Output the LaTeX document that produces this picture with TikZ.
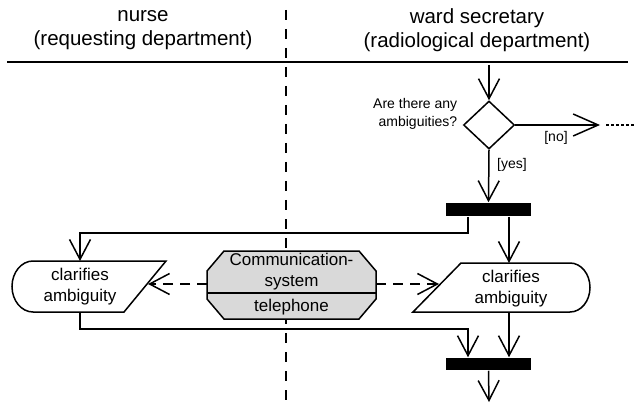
\documentclass[tikz,border=0pt]{standalone}
\usepackage{fontspec}
\setmainfont{Liberation Sans}
\usetikzlibrary{arrows.meta,shapes.geometric,calc}
\definecolor{objfill}{gray}{0.85}
\begin{document}
\begin{tikzpicture}[x=1pt,y=-1pt,
  line width=1.5pt,
  flow/.style={-{Straight Barb[length=20pt,width=21pt,line width=1.5pt]}},
  objflow/.style={flow,dash pattern=on 10pt off 7pt},
  lanetitle/.style={align=center,font=\fontsize{20.5}{24}\selectfont,inner sep=0},
  bodytext/.style={align=center,font=\fontsize{17}{21}\selectfont,inner sep=0},
  guard/.style={font=\fontsize{14}{18}\selectfont,inner sep=0},
  bar/.style={fill=black,minimum width=85pt,minimum height=13pt,inner sep=0},
  ghost/.style={inner sep=0,outer sep=0}
]
\useasboundingbox (0,0) rectangle (636,403);

% swimlane separator and header rule
\coordinate (laneTop) at (286,10);
\coordinate (laneBot) at (286,403);
\draw[line width=2.5pt,dash pattern=on 10pt off 9pt] (laneTop) -- (laneBot);
\coordinate (ruleL) at (7,62);
\coordinate (ruleR) at (628,62);
\draw (ruleL) -- (ruleR);

% lane titles
\node[lanetitle] (laneL) at (143,30) {nurse\\(requesting department)};
\node[lanetitle] (laneR) at (477,30) {ward secretary\\(radiological department)};

% decision
\coordinate (start) at (489,65);
\node[diamond,draw,minimum width=51pt,minimum height=48pt,inner sep=0] (dec) at (489,125) {};
\node[guard,align=right,anchor=east] (question) at (458,114) {Are there any\\ambiguities?};
\draw[flow] (start) -- (dec.north);

\coordinate (noEnd) at (600,125);
\draw[-{Straight Barb[length=25pt,width=22pt,line width=1.5pt]}] (dec.east) -- (noEnd);
\node[guard] (noLbl) at (556,138) {[no]};
\coordinate (dotA) at (606,125);
\coordinate (dotB) at (636,125);
\draw[dash pattern=on 3pt off 2pt] (dotA) -- (dotB);

% fork
\node[bar] (fork) at (488.5,209.5) {};
\draw[flow] (dec.south) -- (fork.north);
\node[guard] (yesLbl) at (512,165) {[yes]};

\coordinate (colL) at (468,0);
\coordinate (colR) at (509,0);

% nurse action
\node[ghost,minimum width=154pt,minimum height=51pt] (actL) at (89,286.5) {};
\node[bodytext] (actLtext) at (80,287) {clarifies\\ambiguity};
\draw ($(actL.north west)+(21pt,0)$) -- (actL.north east)
  -- ($(actL.south east)+(-42pt,0)$) -- ($(actL.south west)+(21pt,0)$)
  arc[start angle=270,end angle=90,x radius=21pt,y radius=25.5pt];

% ward secretary action
\node[ghost,minimum width=177pt,minimum height=49pt] (actR) at (501.5,287.5) {};
\node[bodytext] (actRtext) at (511,289) {clarifies\\ambiguity};
\draw ($(actR.north west)+(48pt,0)$) -- ($(actR.north east)+(-20pt,0)$)
  arc[start angle=90,end angle=-90,x radius=20pt,y radius=24.5pt]
  -- (actR.south west) -- cycle;

% object node
\node[ghost,minimum width=169pt,minimum height=68pt] (comm) at (291.5,285) {};
\filldraw[fill=objfill]
  ($(comm.north west)+(17pt,0)$) -- ($(comm.north east)+(-17pt,0)$)
  -- ($(comm.north east)+(0,-20pt)$) -- ($(comm.south east)+(0,20pt)$)
  -- ($(comm.south east)+(-17pt,0)$) -- ($(comm.south west)+(17pt,0)$)
  -- ($(comm.south west)+(0,20pt)$) -- ($(comm.north west)+(0,-20pt)$) -- cycle;
\coordinate (divY) at (0,293);
\draw (comm.west |- divY) -- (comm.east |- divY);
\node[bodytext] (commName) at (291.5,272) {Communication-\\system};
\node[bodytext] (commKind) at (291.5,307) {telephone};

% object flows
\coordinate (objY) at (0,284);
\coordinate (inL) at (148,284);
\coordinate (inR) at (439,284);
\draw[objflow] (comm.west |- objY) -- (inL);
\draw[objflow] (comm.east |- objY) -- (inR);

% control flows from fork
\draw[flow] (fork.south -| colL) -- ++(0,16) -| (actL.north -| actLtext);
\draw[flow] (fork.south -| colR) -- (actR.north -| colR);

% join
\node[bar,minimum height=12pt] (join) at (488.5,364) {};
\draw[flow] (actL.south -| actLtext) -- ++(0,17) -| (join.north -| colL);
\draw[flow] (actR.south -| colR) -- (join.north -| colR);
\coordinate (exit) at (489,402);
\draw[flow] (join.south) -- (exit);
\end{tikzpicture}
\end{document}
